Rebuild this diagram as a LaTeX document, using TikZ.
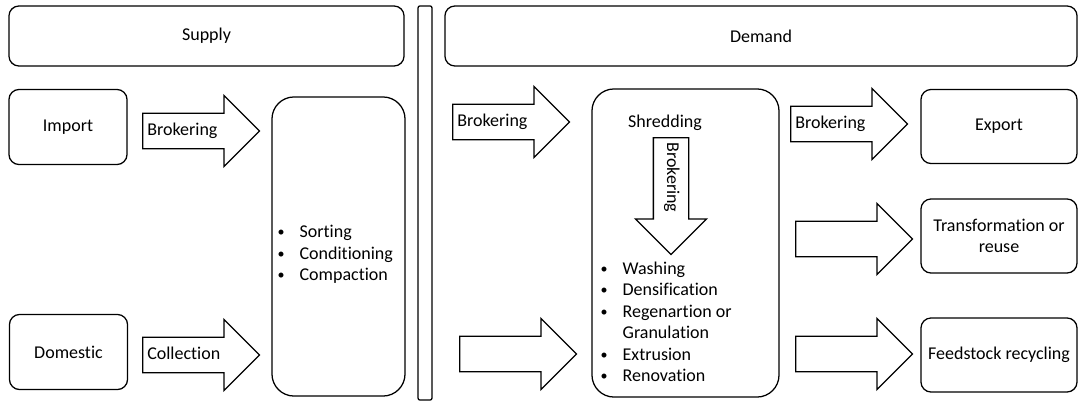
\documentclass[tikz,border=0pt]{standalone}
\usepackage{fontspec}
\setmainfont{Carlito}[Ligatures=NoCommon]
\usetikzlibrary{shapes.arrows}
\newcommand{\bul}{\makebox[0.55cm][l]{\raisebox{0.7pt}{\fontsize{10}{10}\selectfont\textbullet}}}

\begin{document}
\begin{tikzpicture}[
  x=0.025cm, y=-0.025cm, line width=0.9pt,
  every node/.style={font=\fontsize{12.8}{15.3}\selectfont},
  box/.style={rectangle, draw, rounded corners=0.25cm, align=center, inner sep=0pt},
  bigbox/.style={box, rounded corners=0.55cm},
  small/.style={box, minimum width=2.95cm, minimum height=1.875cm},
  outbox/.style={box, minimum width=3.9cm, minimum height=1.85cm},
  fat/.style={single arrow, draw, single arrow tip angle=90,
              single arrow head extend=0.45cm, inner xsep=0.1cm, inner ysep=0.225cm,
              text width=2.25cm, text height=0.3cm, text depth=0.1cm,
              align=left, anchor=tail},
  blist/.style={anchor=west, inner sep=0pt, align=left},
]
\useasboundingbox (0,0) rectangle (1079,401);

% headers
\node[box, minimum width=9.875cm, minimum height=1.5cm] (supply) at (206.5,36) {Supply};
\node[box, rounded corners=0.05cm, minimum width=0.35cm, minimum height=9.85cm] (divider) at (425,203) {};
\node[box, minimum width=15.8cm, minimum height=1.5cm] (demand) at (761,36) {Demand};

% supply side
\node[small] (import)   at (68,127)   {Import};
\node[small] (domestic) at (68.5,352) {Domestic};
\node[bigbox, minimum width=3.325cm, minimum height=7.475cm] (sorting) at (338.5,246.5) {};
\node[blist] (sortlist) at (277,255) {\begin{tabular}{@{}l@{}l@{}}
  \bul & Sorting\\ \bul & Conditioning\\ \bul & Compaction\end{tabular}};
\node[fat] (brokimp) at (142,131) {Brokering};
\node[fat] (collect) at (142,355) {Collection};

% demand side
\node[bigbox, minimum width=4.675cm, minimum height=7.7cm] (shredding) at (685.5,243) {};
\node (shredtxt) at (665,123) {Shredding};
\node[fat, rotate=-90] (brokdown) at (671,137) {Brokering};
\node[blist] (shredlist) at (600,323.5) {\begin{tabular}{@{}l@{}l@{}}
  \bul & Washing\\ \bul & Densification\\ \bul & Regenartion or\\ & Granulation\\
  \bul & Extrusion\\ \bul & Renovation\end{tabular}};
\node[fat] (brokin) at (452,122) {Brokering};
\node[fat] (inflow) at (459,354) {};

\node[outbox] (export)    at (999,126.5) {Export};
\node[outbox] (transform) at (999,236)   {Transformation or\\reuse};
\node[outbox] (feedstock) at (999,355)   {Feedstock recycling};
\node[fat] (brokexp)     at (790,124) {Brokering};
\node[fat] (totransform) at (795,239) {};
\node[fat] (tofeedstock) at (795,354) {};
\end{tikzpicture}
\end{document}
